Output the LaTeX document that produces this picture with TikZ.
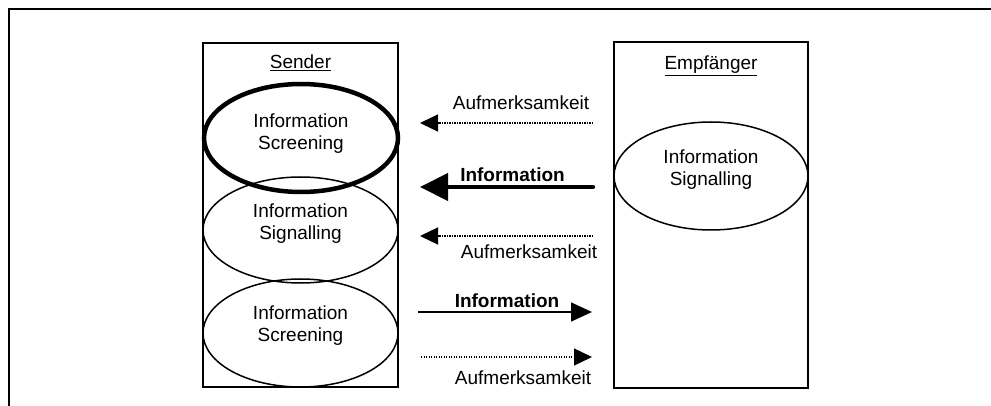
\documentclass[tikz,border=0pt]{standalone}
\usepackage{fontspec}
\setmainfont{Liberation Sans}
\usetikzlibrary{arrows.meta,shapes.geometric}
\begin{document}
\begin{tikzpicture}[x=1pt,y=-1pt,
  txt/.style={font=\fontsize{19}{22}\selectfont, align=center, inner sep=0pt},
  btxt/.style={font=\fontsize{19}{22}\selectfont\bfseries, inner sep=0pt},
  bx/.style={draw, line width=1.5pt, inner sep=0pt},
  ell/.style={draw, ellipse, line width=1.5pt, inner sep=0pt},
  dotarrow/.style={line width=1.3pt, dash pattern=on 1.2pt off 1.3pt, -{Triangle[length=18pt,width=17pt]}},
]
\useasboundingbox (0,0) rectangle (991,406);
% outer frame
\coordinate (fbl) at (9,406);
\coordinate (ftl) at (9,9);
\coordinate (ftr) at (991,9);
\draw[line width=2pt] (fbl) -- (ftl) -- (ftr);

% boxes
\node[bx, minimum width=195pt, minimum height=344pt] (sbox) at (300.5,215) {};
\node[bx, minimum width=194pt, minimum height=346pt] (ebox) at (711,215) {};
\node[txt, anchor=base] (slabel) at (300.5,69) {\underline{Sender}};
\node[txt, anchor=base] (elabel) at (711,69.5) {\underline{Empfänger}};

% ellipses (sender)
\node[ell, minimum width=195pt, minimum height=106pt] (e2) at (300.5,230) {};
\node[ell, minimum width=195pt, minimum height=108pt] (e3) at (300.5,333) {};
\node[ell, line width=4.5pt, minimum width=194pt, minimum height=108pt] (e1) at (301,138) {};
\node[txt] (t1) at (301,134) {Information\\Screening};
\node[txt] (t2) at (300.5,224) {Information\\Signalling};
\node[txt] (t3) at (300.5,326) {Information\\Screening};

% ellipse (receiver)
\node[ell, minimum width=194pt, minimum height=108pt] (e4) at (711,176) {};
\node[txt] (t4) at (711,170) {Information\\Signalling};

% arrows
\coordinate (a1s) at (593,123); \coordinate (a1e) at (420,123);
\coordinate (a2s) at (593,187); \coordinate (a2e) at (420,187);
\coordinate (a3s) at (593,236); \coordinate (a3e) at (420,236);
\coordinate (a4s) at (418,312); \coordinate (a4e) at (592,312);
\coordinate (a5s) at (421,357); \coordinate (a5e) at (592,357);

\draw[dotarrow] (a1s) -- (a1e);
\draw[line width=4.3pt, line cap=round, -{Triangle[length=28pt,width=27pt]}] (a2s) -- (a2e);
\draw[dotarrow] (a3s) -- (a3e);
\draw[line width=1.6pt, -{Triangle[length=21pt,width=19pt]}] (a4s) -- (a4e);
\draw[dotarrow] (a5s) -- (a5e);

% arrow labels
\node[txt] (l1) at (521,103) {Aufmerksamkeit};
\node[btxt] (l2) at (512.5,174.5) {Information};
\node[txt] (l3) at (529,252) {Aufmerksamkeit};
\node[btxt] (l4) at (507,301) {Information};
\node[txt] (l5) at (523,378) {Aufmerksamkeit};
\end{tikzpicture}
\end{document}
